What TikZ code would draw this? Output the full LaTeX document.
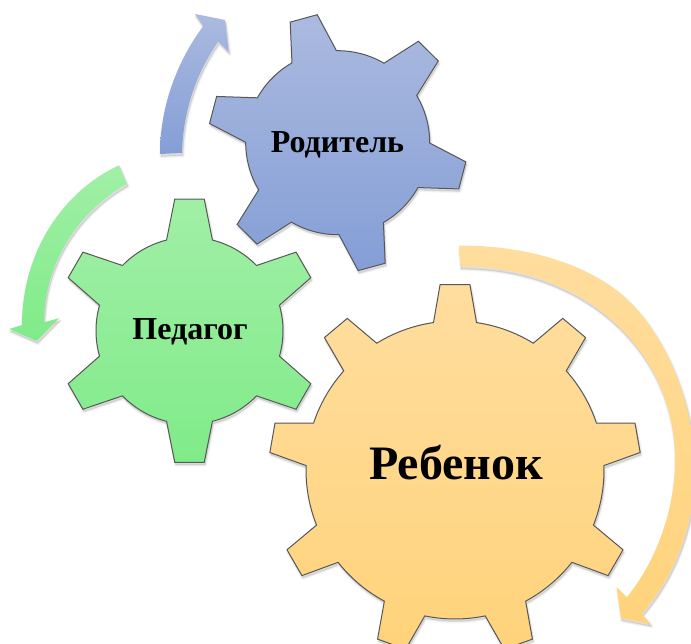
\documentclass[tikz,border=0pt]{standalone}
\usepackage{fontspec}
\setmainfont{Liberation Serif}
\newcommand{\gearshape}[6]{%
  (#6-#3:#1) \foreach \k [evaluate=\k as \t using #6+(\k-1)*360/#5] in {1,...,#5} {
    -- (\t-#3:#1) -- (\t-#4:#2) -- (\t+#4:#2) -- (\t+#3:#1)
    arc[start angle=\t+#3, end angle=\t+360/#5-#3, radius=#1]
  } -- cycle}
\newcommand{\softshadow}[1]{%
  \foreach \w/\o in {4/0.025,2.5/0.035,1/0.05} {
    \path[xshift=1pt,yshift=-2.5pt,fill=black,draw=black,fill opacity=\o,draw opacity=\o,line width=\w pt,line join=round] #1;
  }}
\tikzset{
  gearedge/.style={draw=black!66,line width=1pt,line join=miter},
  bluegear/.style={gearedge,top color=blueT,bottom color=blueB},
  greengear/.style={gearedge,top color=greenT,bottom color=greenB},
  orangegear/.style={gearedge,top color=orangeT,bottom color=orangeB},
  labelbig/.style={inner sep=0pt,font=\bfseries\fontsize{48}{52}\selectfont},
  labelmid/.style={inner sep=0pt,font=\bfseries\fontsize{32}{36}\selectfont},
}
\definecolor{blueT}{HTML}{ABBADF}
\definecolor{blueB}{HTML}{849ED6}
\definecolor{greenT}{HTML}{A1EFA6}
\definecolor{greenB}{HTML}{80EB89}
\definecolor{orangeT}{HTML}{FFDD9E}
\definecolor{orangeB}{HTML}{FFD37B}
\newcommand{\blueArrow}{(160,154) .. controls (160,105) and (178,60) .. (203.3,26) -- (195,14) -- (225,20) -- (228.7,51.7) -- (218.3,41.7) .. controls (197,72) and (183,110) .. (182,153) -- cycle}
\newcommand{\greenArrow}{(119,165.3) .. controls (65,190) and (22,250) .. (22,325) -- (9.3,329) -- (36.7,341) -- (59,318.3) -- (44,322.3) .. controls (44,262) and (80,210) .. (127,184) -- cycle}
\newcommand{\orangeArrow}{(459,245.7) .. controls (515,245) and (578,259) .. (620,293) .. controls (662,327) and (695,400) .. (695,470) .. controls (695,525) and (674,577) .. (641.7,614) -- (650.7,624) -- (621,618.3) -- (616.7,587.3) -- (626.7,597.3) .. controls (656,562) and (675,510) .. (675,460) .. controls (675,352) and (585,266) .. (460.3,266.7) -- cycle}
\begin{document}
\begin{tikzpicture}[x=1pt,y=1pt]
\useasboundingbox (0,0) rectangle (691,644);
\clip (0,0) rectangle (691,644);
% block arrows (pixel coordinates, y downwards)
\begin{scope}[y=-1pt,shift={(0pt,644pt)}]
  \softshadow{\blueArrow}
  \softshadow{\greenArrow}
  \softshadow{\orangeArrow}
  \path[top color=blueT,bottom color=blueB] \blueArrow;
  \path[top color=greenT,bottom color=greenB] \greenArrow;
  \path[top color=orangeT,bottom color=orangeB] \orangeArrow;
\end{scope}
% gears
\begin{scope}[shift={(337.7pt,501.3pt)}]
  \softshadow{\gearshape{92}{129.6}{14.5}{6.2}{6}{105.3}}
  \path[bluegear] \gearshape{92}{129.6}{14.5}{6.2}{6}{105.3};
\end{scope}
\begin{scope}[shift={(189.5pt,313.3pt)}]
  \softshadow{\gearshape{93.5}{132.4}{14.2}{6.4}{6}{90}}
  \path[greengear] \gearshape{93.5}{132.4}{14.2}{6.4}{6}{90};
\end{scope}
\begin{scope}[shift={(455pt,174pt)}]
  \softshadow{\gearshape{149}{186}{8.3}{4.6}{9}{90}}
  \path[orangegear] \gearshape{149}{186}{8.3}{4.6}{9}{90};
\end{scope}
% labels
\node[labelmid] (roditel) at (337.5,499) {Родитель};
\node[labelmid] (pedagog) at (190,312) {Педагог};
\node[labelbig] (rebenok) at (456,181) {Ребенок};
\end{tikzpicture}
\end{document}
